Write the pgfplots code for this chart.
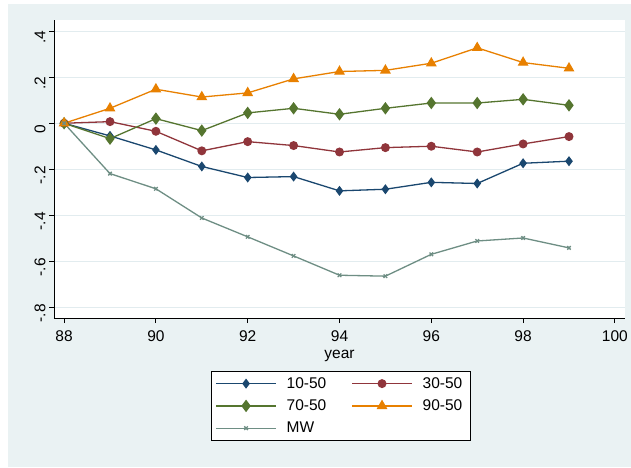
\documentclass[border=0pt]{standalone}
\usepackage{fontspec}
\setmainfont{Liberation Sans}
\usepackage{pgfplots}
\pgfplotsset{compat=1.18}
\definecolor{bgc}{RGB}{234,242,243}
\definecolor{gridc}{RGB}{226,236,239}
\definecolor{cnavy}{RGB}{26,71,111}
\definecolor{cmaroon}{RGB}{144,53,59}
\definecolor{cgreen}{RGB}{85,117,47}
\definecolor{corange}{RGB}{232,128,0}
\definecolor{cteal}{RGB}{110,142,132}
\begin{document}
\begin{tikzpicture}[x=1pt,y=1pt]
\useasboundingbox (0,0) rectangle (631,467);
\fill[white] (0,0) rectangle (631,467);
\fill[bgc] (8,0) rectangle (631,463);
\fill[white] (54,149) rectangle (625,447);
\begin{axis}[
  at={(54pt,149pt)}, anchor=south west,
  scale only axis, width=571pt, height=298pt,
  xmin=87.78, xmax=100.22, ymin=-0.847, ymax=0.449,
  axis lines=left, axis line style={-, line width=0.9pt, black},
  xtick={88,90,...,100},
  ytick={-0.8,-0.6,-0.4,-0.2,0,0.2,0.4},
  yticklabels={-.8,-.6,-.4,-.2,0,.2,.4},
  tick align=outside, major tick length=5pt,
  tick style={black, line width=0.9pt},
  ymajorgrids, major grid style={gridc, line width=1.2pt},
  /pgf/number format/assume math mode=true,
  font=\fontsize{15.5}{18}\selectfont,
  ticklabel style={font=\fontsize{15.5}{18}\selectfont},
  xticklabel style={yshift=-4pt},
  yticklabel style={rotate=90, anchor=south, xshift=-6pt},
  xlabel={year},
  xlabel style={yshift=-2pt},
  legend columns=2,
  legend cell align=left,
  legend style={at={(axis description cs:0.275,-0.178)}, anchor=north west,
    draw=black, line width=0.8pt, fill=white,
    font=\fontsize{15.5}{18}\selectfont,
    inner xsep=4pt, inner ysep=4pt,
    row sep=6pt,
    nodes={inner xsep=4pt, inner ysep=2pt},
    /tikz/every odd column/.append style={column sep=6pt},
    /tikz/every even column/.append style={column sep=21pt}},
  legend image code/.code={\draw[mark repeat=2,mark phase=2,#1] plot coordinates {(0pt,0pt) (30pt,0pt) (60pt,0pt)};},
  every axis plot/.append style={line width=1.3pt},
]
\addplot[cnavy, mark=diamond*, mark size=4pt, mark options={solid}] coordinates {
(88,0) (89,-0.055) (90,-0.116) (91,-0.188) (92,-0.236) (93,-0.232) (94,-0.294) (95,-0.287) (96,-0.257) (97,-0.262) (98,-0.174) (99,-0.165)};
\addlegendentry{10-50}
\addplot[cmaroon, mark=*, mark size=3.8pt] coordinates {
(88,0) (89,0.007) (90,-0.035) (91,-0.12) (92,-0.08) (93,-0.097) (94,-0.125) (95,-0.106) (96,-0.1) (97,-0.125) (98,-0.09) (99,-0.058)};
\addlegendentry{30-50}
\addplot[cgreen, mark=diamond*, mark size=5.2pt] coordinates {
(88,0) (89,-0.067) (90,0.02) (91,-0.032) (92,0.045) (93,0.065) (94,0.039) (95,0.065) (96,0.088) (97,0.088) (98,0.104) (99,0.078)};
\addlegendentry{70-50}
\addplot[corange, mark=triangle*, mark size=5pt] coordinates {
(88,0) (89,0.065) (90,0.148) (91,0.114) (92,0.132) (93,0.193) (94,0.225) (95,0.23) (96,0.261) (97,0.328) (98,0.264) (99,0.239)};
\addlegendentry{90-50}
\addplot[cteal, mark=x, mark size=2.5pt] coordinates {
(88,0) (89,-0.219) (90,-0.285) (91,-0.412) (92,-0.494) (93,-0.577) (94,-0.661) (95,-0.665) (96,-0.570) (97,-0.512) (98,-0.499) (99,-0.542)};
\addlegendentry{MW}
\end{axis}
\end{tikzpicture}
\end{document}
